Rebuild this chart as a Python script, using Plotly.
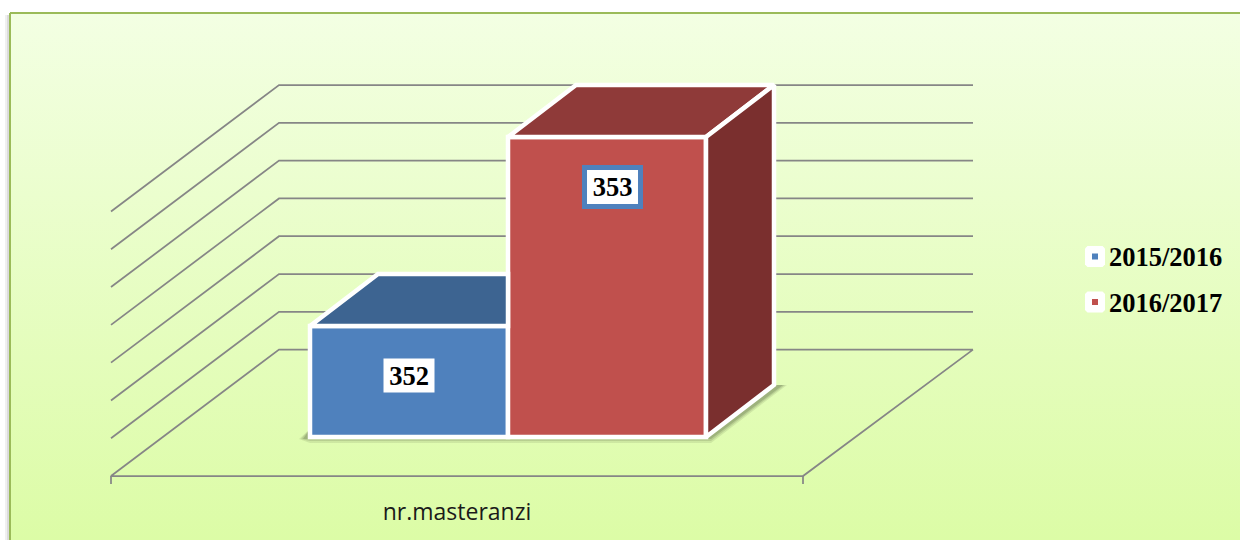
import plotly.graph_objects as go

# ---- data ----
CATEGORY = "nr.masteranzi"
SERIES = ["2015/2016", "2016/2017"]
VALUES = [352, 353]
COLORS_FRONT = ["#4f81bd", "#c0504d"]
COLORS_TOP = ["#3d6491", "#8f3a39"]
COLORS_SIDE = ["#345579", "#7a2f2e"]
GRID_VALUES = [351.6, 351.8, 352.0, 352.2, 352.4, 352.6, 352.8, 353.0]

# ---- geometry of the 3-D look (x in canvas units, y in axis values) ----
W, H = 1240, 540
UNIT_PX = 189.0
Y_TOP = 353 + 137 / UNIT_PX
Y_BOTTOM = Y_TOP - H / UNIT_PX
BAR_BASE = 351.413
BAR_LEFT = 310
BAR_W = 198
DEPTH_X = 68
DEPTH_V = 52 / UNIT_PX
FLOOR_L, FLOOR_BL, FLOOR_FR, FLOOR_BR = 111, 279, 803, 973
OFF_FRONT, OFF_BACK = -0.394, 0.275
FLOOR_V = GRID_VALUES[0]
GRID_COLOR = "#868686"
GRID_W = 1.75
SERIF = "Liberation Serif"
KEY_X = 1095
KEY_ROWS = [256.5, 302]


def val(py):
    """canvas pixel row -> axis value"""
    return Y_TOP - py / UNIT_PX


fig = go.Figure()

# chart area: gradient, green frame and soft left shadow
fx, fy = 10, val(13)
for off, alpha in ((2, 0.14), (4, 0.06)):
    fig.add_trace(go.Scatter(
        x=[fx - off, fx - off], y=[fy - 2 / UNIT_PX, Y_BOTTOM - 1], mode="lines",
        line=dict(color=f"rgba(0,0,0,{alpha})", width=2), hoverinfo="skip", showlegend=False))
fig.add_trace(go.Scatter(
    x=[fx, W + 5, W + 5, fx, fx], y=[fy, fy, Y_BOTTOM - 1, Y_BOTTOM - 1, fy],
    mode="lines", fill="toself",
    fillgradient=dict(type="vertical",
                      colorscale=[[0, "#dcfca6"], [1, "#f3ffe3"]],
                      start=Y_BOTTOM, stop=fy),
    line=dict(color="#9bbb59", width=2), hoverinfo="skip", showlegend=False))

# wall gridlines
for g in GRID_VALUES[1:]:
    fig.add_trace(go.Scatter(
        x=[FLOOR_L, FLOOR_BL, FLOOR_BR],
        y=[g + OFF_FRONT, g + OFF_BACK, g + OFF_BACK], mode="lines",
        line=dict(color=GRID_COLOR, width=GRID_W), hoverinfo="skip", showlegend=False))

# floor outline and category ticks
fig.add_trace(go.Scatter(
    x=[FLOOR_BR, FLOOR_BL, FLOOR_L, FLOOR_FR, FLOOR_BR],
    y=[FLOOR_V + OFF_BACK, FLOOR_V + OFF_BACK, FLOOR_V + OFF_FRONT,
       FLOOR_V + OFF_FRONT, FLOOR_V + OFF_BACK],
    mode="lines", line=dict(color=GRID_COLOR, width=GRID_W), hoverinfo="skip", showlegend=False))
for tx in (FLOOR_L, FLOOR_FR):
    fig.add_trace(go.Scatter(
        x=[tx, tx], y=[FLOOR_V + OFF_FRONT, FLOOR_V + OFF_FRONT - 8 / UNIT_PX], mode="lines",
        line=dict(color=GRID_COLOR, width=GRID_W), hoverinfo="skip", showlegend=False))

# soft shadow on the floor under the bars
bar_right = BAR_LEFT + BAR_W * len(VALUES)
for grow, alpha in ((5, 0.12), (3, 0.16), (1, 0.22)):
    sx = [BAR_LEFT - 6 - grow, BAR_LEFT, bar_right, bar_right + DEPTH_X,
          bar_right + DEPTH_X + 8 + grow, bar_right + 5, BAR_LEFT]
    sy = [BAR_BASE - 2 / UNIT_PX, BAR_BASE + 8 / UNIT_PX, BAR_BASE, BAR_BASE + DEPTH_V,
          BAR_BASE + DEPTH_V, BAR_BASE - (1 + grow) / UNIT_PX, BAR_BASE - (1 + grow) / UNIT_PX]
    fig.add_trace(go.Scatter(
        x=sx, y=sy, mode="lines", fill="toself", fillcolor=f"rgba(70,80,50,{alpha})",
        line=dict(width=0), hoverinfo="skip", showlegend=False))

# white boxes behind the legend keys (slightly cut corners)
for cy in KEY_ROWS:
    x0, x1, y0, y1, r = KEY_X - 10, KEY_X + 10, cy - 10.5, cy + 10.5, 2.5
    fig.add_trace(go.Scatter(
        x=[x0 + r, x1 - r, x1, x1, x1 - r, x0 + r, x0, x0, x0 + r],
        y=[val(y0), val(y0), val(y0 + r), val(y1 - r), val(y1), val(y1),
           val(y1 - r), val(y0 + r), val(y0)],
        mode="lines", fill="toself", fillcolor="white", line=dict(width=0),
        hoverinfo="skip", showlegend=False))

# front faces of the bars (overlay axes so they sit above the walls)
for i, (name, v) in enumerate(zip(SERIES, VALUES)):
    left = BAR_LEFT + BAR_W * i
    fig.add_trace(go.Bar(
        x=[left + BAR_W / 2], y=[v - BAR_BASE], base=[BAR_BASE], width=[BAR_W],
        marker=dict(color=COLORS_FRONT[i], line=dict(color="white", width=4.5)),
        name=name, xaxis="x2", yaxis="y2", showlegend=False))

# top and right faces, derived from the same values
for i, v in enumerate(VALUES):
    left = BAR_LEFT + BAR_W * i
    right = left + BAR_W
    hidden = i + 1 < len(VALUES) and VALUES[i + 1] > v   # taller neighbour hides the far corner
    back_right = right if hidden else right + DEPTH_X
    fig.add_trace(go.Scatter(
        x=[left, left + DEPTH_X, back_right, right, left],
        y=[v, v + DEPTH_V, v + DEPTH_V, v, v], mode="lines", fill="toself",
        fillcolor=COLORS_TOP[i], line=dict(color="white", width=4.5),
        xaxis="x2", yaxis="y2", hoverinfo="skip", showlegend=False))
    if i == len(VALUES) - 1:
        fig.add_trace(go.Scatter(
            x=[right, right + DEPTH_X, right + DEPTH_X, right, right],
            y=[v, v + DEPTH_V, BAR_BASE + DEPTH_V, BAR_BASE, v], mode="lines", fill="toself",
            fillcolor=COLORS_SIDE[i], line=dict(color="white", width=4.5),
            xaxis="x2", yaxis="y2", hoverinfo="skip", showlegend=False))

# legend: real legend for the names, keys placed inside the white boxes
for i, name in enumerate(SERIES):
    fig.add_trace(go.Scatter(
        x=[None], y=[None], mode="markers", name=name, legendgroup=name,
        marker=dict(symbol="square", size=6, color="rgba(0,0,0,0)")))
    fig.add_trace(go.Scatter(
        x=[KEY_X], y=[val(KEY_ROWS[i])], mode="markers", showlegend=False, hoverinfo="skip",
        marker=dict(symbol="square", size=6, color=COLORS_FRONT[i]),
        xaxis="x2", yaxis="y2"))

# data labels
ann_font = dict(family=SERIF, size=26.5, color="black", weight="bold")
annotations = [
    dict(x=BAR_LEFT + BAR_W / 2, y=val(375.5), xref="x2", yref="y2", text=str(VALUES[0]),
         showarrow=False, font=ann_font, bgcolor="white", width=50, height=33, borderpad=0),
    dict(x=BAR_LEFT + BAR_W * 1.5 + 5.5, y=val(186.5), xref="x2", yref="y2", text=str(VALUES[1]),
         showarrow=False, font=ann_font, bgcolor="white", width=51, height=34, borderpad=0,
         bordercolor="#4f81bd", borderwidth=5),
]

fig.update_layout(
    width=W, height=H, autosize=False,
    margin=dict(l=0, r=0, t=0, b=0),
    paper_bgcolor="white", plot_bgcolor="rgba(0,0,0,0)",
    barmode="overlay", hovermode=False,
    xaxis=dict(range=[0, W], domain=[0, 1], showgrid=False, zeroline=False, showline=False,
               tickmode="array", tickvals=[457], ticktext=[CATEGORY], ticks="",
               tickfont=dict(family="Open Sans", size=23, color="#1a1a1a"),
               anchor="free", position=1 - 476 / H, ticklabelstandoff=20),
    yaxis=dict(range=[Y_BOTTOM, Y_TOP], domain=[0, 1], visible=False),
    xaxis2=dict(range=[0, W], overlaying="x", visible=False),
    yaxis2=dict(range=[Y_BOTTOM, Y_TOP], overlaying="y", visible=False),
    legend=dict(x=1069 / W, y=1 - 232 / H, xanchor="left", yanchor="top",
                bgcolor="rgba(0,0,0,0)", tracegroupgap=8, itemwidth=30,
                font=dict(family=SERIF, size=26.5, color="black", weight="bold")),
    annotations=annotations, showlegend=True,
)

fig.write_html("out.html", config=dict(displayModeBar=False),
               post_script="document.body.style.margin='0';document.body.style.overflow='hidden';")
